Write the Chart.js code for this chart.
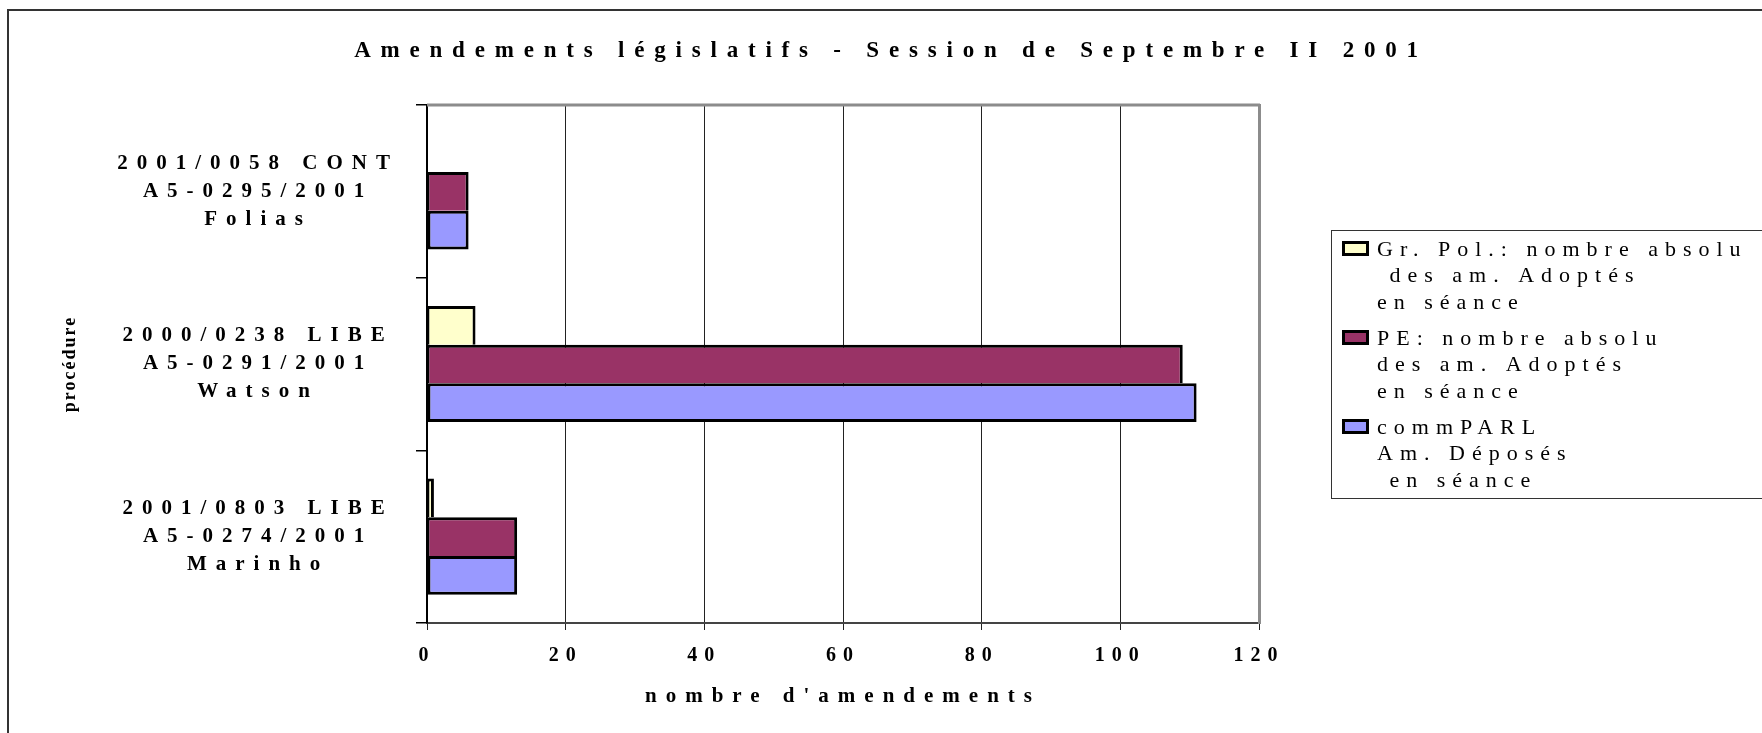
<!DOCTYPE html>
<html>
<head>
<meta charset="utf-8">
<script src="https://cdn.jsdelivr.net/npm/chart.js@4/dist/chart.umd.min.js"></script>
<style>
html, body { margin: 0; padding: 0; background: #fff; }
</style>
</head>
<body>
<canvas id="grafica" width="1762" height="733"></canvas>
<script>
// Datos
const categorias = [
    ["2001/0058 CONT", "A5-0295/2001", "Folias"],
    ["2000/0238 LIBE", "A5-0291/2001", "Watson"],
    ["2001/0803 LIBE", "A5-0274/2001", "Marinho"]
];
const nombresSeries = [
    "Gr. Pol.: nombre absolu\n des am. Adoptés\nen séance",
    "PE: nombre absolu\ndes am. Adoptés\nen séance",
    "commPARL\nAm. Déposés\n en séance"
];
const grPol = [0, 7, 1];
const pe = [6, 109, 13];
const commParl = [6, 111, 13];
const ticksX = [0, 20, 40, 60, 80, 100, 120];

const titulo = "Amendements législatifs - Session de Septembre II 2001";
const tituloX = "nombre d'amendements";
const tituloY = "procédure";

const SERIF = "'Liberation Serif', 'Times New Roman', serif";
Chart.defaults.color = "#000";
Chart.defaults.font.family = SERIF;

// espaciado de letras por elemento (el PDF original tiene texto muy espaciado)
function espaciar(obj, metodo, px) {
    if (!obj || obj["_esp_" + metodo]) return;
    const orig = obj[metodo];
    obj[metodo] = function (...args) {
        const c = this.ctx;
        const prev = c.letterSpacing;
        c.letterSpacing = px + "px";
        const r = orig.apply(this, args);
        c.letterSpacing = prev;
        return r;
    };
    obj["_esp_" + metodo] = true;
}

const pluginEspaciado = {
    id: "espaciado",
    beforeDraw(chart) {
        espaciar(chart.titleBlock, "draw", 9.8);
        espaciar(chart.scales.x, "drawLabels", 7);
        espaciar(chart.scales.x, "drawTitle", 9);
        espaciar(chart.scales.y, "drawLabels", 9);
        espaciar(chart.scales.y, "drawTitle", 2);
    }
};

// marco exterior, borde superior del área y leyenda de varias líneas
const pluginMarco = {
    id: "marco",
    afterDraw(chart) {
        const ctx = chart.ctx;
        const a = chart.chartArea;
        ctx.save();
        ctx.strokeStyle = "#333";
        ctx.lineWidth = 2;
        ctx.beginPath();
        ctx.moveTo(8, chart.height);
        ctx.lineTo(8, 10);
        ctx.lineTo(chart.width, 10);
        ctx.stroke();

        ctx.strokeStyle = "#8c8c8c";
        ctx.lineWidth = 3;
        ctx.beginPath();
        ctx.moveTo(a.left, a.top);
        ctx.lineTo(a.right + 1, a.top);
        ctx.stroke();

        // leyenda
        const lx = 1331, ly = 230;
        ctx.strokeStyle = "#333";
        ctx.lineWidth = 1;
        ctx.strokeRect(lx + 0.5, ly + 0.5, chart.width - lx + 10, 268);
        ctx.font = "22px " + SERIF;
        ctx.textBaseline = "middle";
        ctx.textAlign = "left";
        ctx.letterSpacing = "7px";
        chart.data.datasets.forEach((ds, i) => {
            const y0 = ly + 11 + i * 89;
            ctx.fillStyle = "#000";
            ctx.fillRect(lx + 11, y0, 27, 15);
            ctx.fillStyle = ds.backgroundColor;
            ctx.fillRect(lx + 14, y0 + 3, 21, 9);
            ctx.fillStyle = "#000";
            ds.label.split("\n").forEach((linea, j) => {
                ctx.fillText(linea, lx + 46, y0 + 9 + j * 26.7);
            });
        });
        ctx.letterSpacing = "0px";
        ctx.restore();
    }
};

const ultimo = ticksX.length - 1;

new Chart(document.getElementById("grafica"), {
    type: "bar",
    data: {
        labels: categorias,
        datasets: [
            { label: nombresSeries[0], data: grPol, backgroundColor: "#FFFFCC" },
            { label: nombresSeries[1], data: pe, backgroundColor: "#993366" },
            { label: nombresSeries[2], data: commParl, backgroundColor: "#9999FF" }
        ].map(d => ({
            ...d,
            borderColor: "#000",
            borderSkipped: false,
            borderWidth: c => c.datasetIndex === 2
                ? { top: 3, bottom: 3, left: 3, right: 3 }
                : { top: 3, bottom: 0, left: 2, right: 3 },
            barPercentage: 1,
            categoryPercentage: 0.673
        }))
    },
    options: {
        indexAxis: "y",
        responsive: false,
        animation: false,
        layout: { padding: { left: 60, right: 40, top: 0, bottom: 0 } },
        plugins: {
            legend: { display: false },
            tooltip: { enabled: false },
            title: {
                display: true,
                text: titulo,
                color: "#000",
                font: { size: 23, weight: "bold", lineHeight: 1.2 },
                padding: { top: 37, bottom: 40.4 }
            }
        },
        scales: {
            x: {
                type: "linear",
                min: ticksX[0],
                max: ticksX[ultimo],
                afterBuildTicks: s => { s.ticks = ticksX.map(v => ({ value: v })); },
                afterFit: s => {
                    s.height = 110;
                    s.paddingLeft = 0;
                    s.paddingRight = 0;
                },
                grid: {
                    color: c => c.index === ultimo ? "#8c8c8c" : (c.index === 0 ? "rgba(0,0,0,0)" : "#222"),
                    lineWidth: c => c.index === ultimo ? 3 : 1,
                    tickColor: "#222",
                    tickWidth: 1,
                    tickLength: 7
                },
                border: { color: "#444", width: 2 },
                ticks: {
                    padding: 14,
                    font: { size: 20, weight: "bold", lineHeight: 1.2 }
                },
                title: {
                    display: true,
                    text: tituloX,
                    font: { size: 21, weight: "bold", lineHeight: 1.2 },
                    padding: { top: 0, bottom: 23.4 }
                }
            },
            y: {
                afterFit: s => {
                    s.width = 367;
                    s.paddingTop = 0;
                    s.paddingBottom = 0;
                },
                grid: {
                    drawOnChartArea: false,
                    color: "#000",
                    lineWidth: 1.5,
                    tickLength: 11
                },
                border: { color: "#000", width: 2 },
                ticks: {
                    crossAlign: "center",
                    padding: 80,
                    font: { size: 21, weight: "bold", lineHeight: 1.33 }
                },
                title: {
                    display: true,
                    text: tituloY,
                    font: { size: 18, weight: "bold", lineHeight: 1.2 },
                    padding: { top: 0, bottom: 0 }
                }
            },
            y2: {
                type: "category",
                position: "right",
                afterFit: s => {
                    s.width = 463;
                    s.paddingTop = 0;
                    s.paddingBottom = 0;
                },
                grid: { display: false },
                ticks: { display: false },
                border: { color: "#8c8c8c", width: 3 }
            }
        }
    },
    plugins: [pluginEspaciado, pluginMarco]
});
</script>
</body>
</html>
